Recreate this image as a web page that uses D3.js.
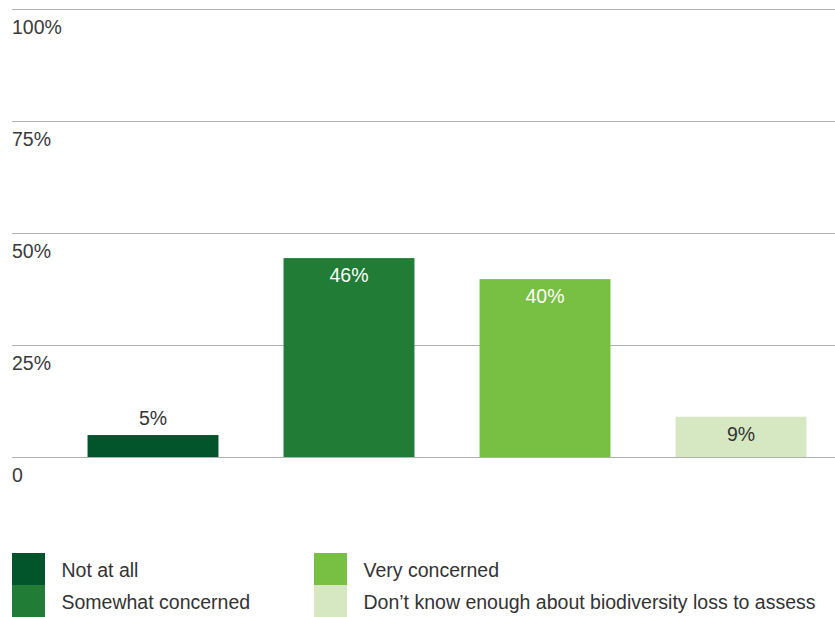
<!DOCTYPE html>
<html><head><meta charset="utf-8">
<script src="https://cdn.jsdelivr.net/npm/d3@7"></script>
<style>body{margin:0;background:#fff}svg{display:block}text{font-family:"Liberation Sans",Arial,sans-serif}</style>
</head><body>
<svg id="c" width="835" height="617"></svg>
<script>
const categories = ["Not at all", "Somewhat concerned", "Very concerned", "Don\u2019t know enough about biodiversity loss to assess"];
const values = [4.9, 44.4, 39.7, 9.0];
const valueLabels = ["5%", "46%", "40%", "9%"];
const colors = ["#02552b", "#217c35", "#77c043", "#d5e8c1"];
const labelColors = ["#333333", "#ffffff", "#ffffff", "#333333"];
const tickValues = [0, 25, 50, 75, 100];
const tickLabels = ["0", "25%", "50%", "75%", "100%"];

const svg = d3.select("#c");
const y = d3.scaleLinear().domain([0, 100]).range([457, 9]);
const x = d3.scaleBand().domain(categories).range([55, 839]).paddingInner(0.332).paddingOuter(0.166);

// gridlines
svg.append("g").selectAll("line").data(tickValues).join("line")
  .attr("x1", 12).attr("x2", 835)
  .attr("y1", d => Math.round(y(d)) + 0.5).attr("y2", d => Math.round(y(d)) + 0.5)
  .attr("stroke", "#b0b0b0").attr("stroke-width", 1.2);

svg.append("g").selectAll("text").data(tickValues).join("text")
  .attr("x", 12).attr("y", d => y(d) + 24.5)
  .attr("font-size", 19.5).attr("fill", "#3a3a3a")
  .text((d, i) => tickLabels[i]);

// bars
svg.append("g").selectAll("rect").data(values).join("rect")
  .attr("x", (d, i) => x(categories[i]))
  .attr("width", x.bandwidth())
  .attr("y", d => y(d))
  .attr("height", d => y(0) - y(d))
  .attr("fill", (d, i) => colors[i]);

svg.append("g").selectAll("text").data(values).join("text")
  .attr("x", (d, i) => x(categories[i]) + x.bandwidth() / 2)
  .attr("y", d => (y(0) - y(d) > 30) ? y(d) + 24 : y(d) - 10)
  .attr("text-anchor", "middle")
  .attr("font-size", 19.5)
  .attr("fill", (d, i) => (y(0) - y(d) > 30) ? labelColors[i] : "#333333")
  .text((d, i) => valueLabels[i]);

// legend
const legPos = [[12, 553], [12, 585], [314, 553], [314, 585]];
const leg = svg.append("g");
categories.forEach((c, i) => {
  const [lx, ly] = legPos[i];
  leg.append("rect").attr("x", lx).attr("y", ly).attr("width", 33).attr("height", 32).attr("fill", colors[i]);
  leg.append("text").attr("x", lx + 49.5).attr("y", ly + 24).attr("font-size", 19.5).attr("fill", "#333333").text(c);
});
</script>
</body></html>
